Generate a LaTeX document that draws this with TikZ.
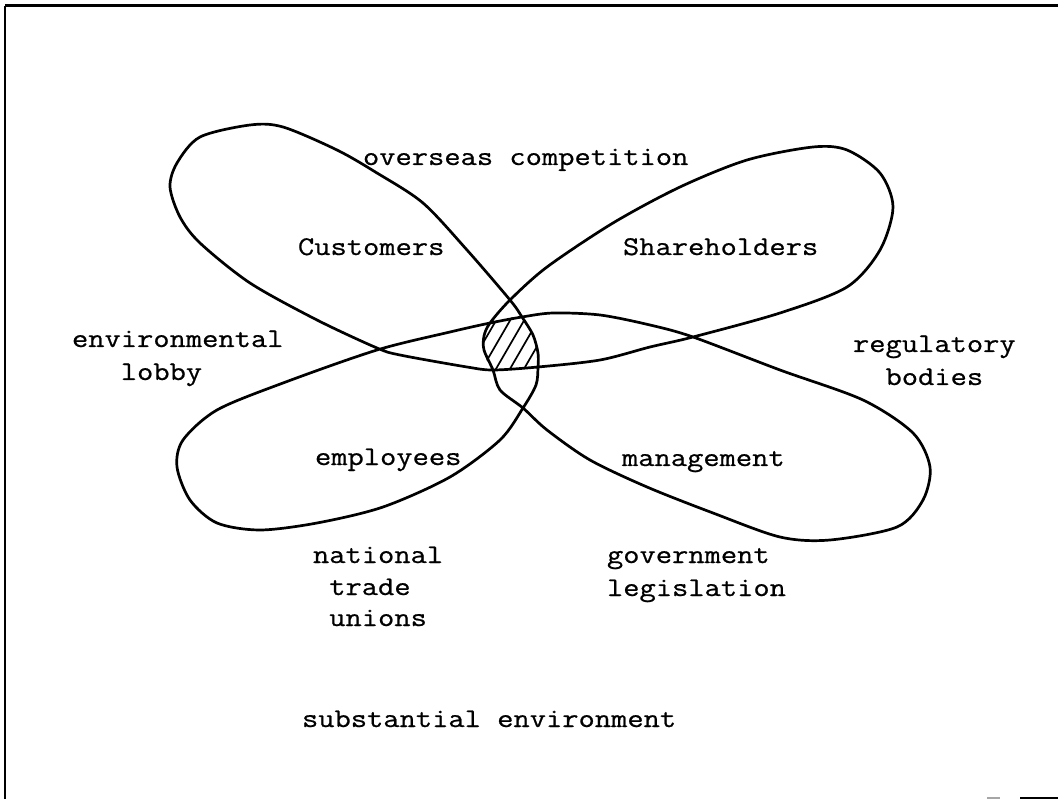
\documentclass[tikz,border=0pt]{standalone}
\usepackage{fontspec}
\newfontfamily\typew{Latin Modern Mono}[FakeStretch=1.17,FakeBold=0.7]
\begin{document}
\begin{tikzpicture}[x=1pt,y=-1pt,
  lbl/.style={anchor=base west,inner sep=0pt,outer sep=0pt,font=\typew\fontsize{27}{32}\selectfont},
  petal/.style={line width=2.7pt,line join=round},
  hatch/.style={line width=1.7pt}]
\useasboundingbox (0,0) rectangle (1058,799);
% frame
\draw[line width=3pt] (5,6) -- (1058,6);
\draw[line width=1.6pt] (5,6) -- (5,799);
\draw[line width=2pt,gray!70] (987,797.5) -- (1000,797.5);
\draw[line width=2pt] (1020,797.5) -- (1058,797.5);
% hatched core
\begin{scope}
\clip plot[smooth cycle] coordinates {(490,323)(506,319)(522,317)(533,335)(538,353)(538,367)(515,369)(493,370)(484,352)(484,336)};
\foreach \k in {-4,...,4} \draw[hatch] ({511+\k*14-40},412) -- ({511+\k*14+40},274);
\end{scope}
% four-petal curve
\draw[petal] plot[smooth cycle] coordinates {
(250,125)(283,127)(337,150)(377,173)(423,203)(467,250)(510,300)(522,317)(533,335)(538,353)(538,367)(536,385)(523,408)(500,440)(450,477)(383,507)(317,523)(260,530)(217,523)(190,500)(177,467)(183,440)(217,410)(283,383)(377,350)(450,332)(490,323)(522,317)(553,313)(600,315)(650,325)(693,337)(780,370)(863,400)(913,433)(930,467)(923,500)(897,527)(830,540)(780,537)(713,513)(647,487)(590,460)(547,430)(523,408)(500,390)(493,370)(484,350)(484,336)(490,323)(510,300)(547,267)(613,223)(680,187)(747,160)(813,147)(847,150)(880,173)(893,207)(880,250)(847,287)(780,313)(693,337)(650,347)(600,360)(538,367)(493,370)(467,367)(400,355)(377,348)(317,320)(250,283)(200,243)(180,217)(170,187)(177,163)(200,137)};
% labels
\node[lbl] (overseas) at (363,165) {overseas competition};
\node[lbl] (cust) at (298,255) {Customers};
\node[lbl] (share) at (623,255) {Shareholders};
\node[lbl] (env1) at (72,347) {environmental};
\node[lbl] (env2) at (72,380) {\phantom{xxx}lobby};
\node[lbl] (reg1) at (853,352) {regulatory};
\node[lbl] (reg2) at (853,385) {\phantom{xx}bodies};
\node[lbl] (empl) at (315,465) {employees};
\node[lbl] (mgmt) at (622,466) {management};
\node[lbl] (ntu1) at (313,563) {national};
\node[lbl] (ntu2) at (313,595) {\phantom{x}trade};
\node[lbl] (ntu3) at (313,626) {\phantom{x}unions};
\node[lbl] (gov1) at (607,563) {government};
\node[lbl] (gov2) at (607,596) {legislation};
\node[lbl] (subst) at (302,727) {substantial environment};
\end{tikzpicture}
\end{document}
